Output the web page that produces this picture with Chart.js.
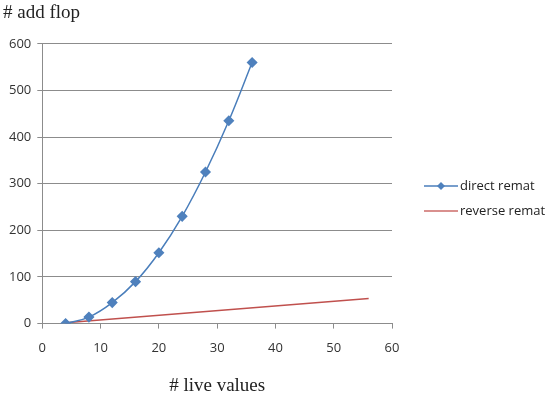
<!DOCTYPE html>
<html>
<head>
<meta charset="utf-8">
<script src="https://cdn.jsdelivr.net/npm/chart.js@4.4.0/dist/chart.umd.min.js"></script>
<style>
  html, body { margin: 0; padding: 0; background: #fff; }
  #wrap { width: 558px; height: 401px; }
</style>
</head>
<body>
<div id="wrap"><canvas id="myChart" width="558" height="401"></canvas></div>
<script>
const liveValues = [4, 8, 12, 16, 20, 24, 28, 32, 36];
const directRemat = [0, 14, 45, 90, 152, 230, 325, 435, 560];
const reverseX = [4, 56];
const reverseRemat = [2, 54];
const xTicks = [0, 10, 20, 30, 40, 50, 60];
const yTicks = [0, 100, 200, 300, 400, 500, 600];

const blue = '#4a7ebb';
const red = '#c0504d';
const gridColor = '#8c8c8c';
const tickFont = { family: 'Open Sans', size: 13 };

// legend drawn by hand so the marker looks like the reference
const sideLegend = {
  id: 'sideLegend',
  afterDraw(chart) {
    const ctx = chart.ctx;
    const x0 = 424, y1 = 186, y2 = 211;
    ctx.save();
    ctx.lineWidth = 1.5;
    ctx.strokeStyle = blue;
    ctx.beginPath(); ctx.moveTo(x0, y1); ctx.lineTo(x0 + 34, y1); ctx.stroke();
    ctx.fillStyle = '#4f81bd';
    ctx.beginPath();
    ctx.moveTo(x0 + 17, y1 - 4); ctx.lineTo(x0 + 21, y1); ctx.lineTo(x0 + 17, y1 + 4); ctx.lineTo(x0 + 13, y1);
    ctx.closePath(); ctx.fill();
    ctx.strokeStyle = '#d9908e';
    ctx.lineWidth = 2;
    ctx.beginPath(); ctx.moveTo(x0, y2); ctx.lineTo(x0 + 34, y2); ctx.stroke();
    ctx.fillStyle = '#222';
    ctx.font = '13px "Open Sans"';
    ctx.textBaseline = 'middle';
    ctx.fillText('direct remat', x0 + 36, y1);
    ctx.fillText('reverse remat', x0 + 36, y2);
    ctx.restore();
  }
};

const ctx = document.getElementById('myChart').getContext('2d');
const myChart = new Chart(ctx, {
  type: 'scatter',
  data: {
    datasets: [
      {
        label: 'direct remat',
        data: liveValues.map((x, i) => ({ x: x, y: directRemat[i] })),
        showLine: true,
        borderColor: blue,
        backgroundColor: blue,
        borderWidth: 1.5,
        tension: 0.4,
        pointStyle: 'rectRot',
        pointRadius: 4.5,
        pointBackgroundColor: '#4f81bd',
        pointBorderColor: '#4f81bd'
      },
      {
        label: 'reverse remat',
        data: reverseX.map((x, i) => ({ x: x, y: reverseRemat[i] })),
        showLine: true,
        borderColor: red,
        borderWidth: 1.5,
        pointRadius: 0
      }
    ]
  },
  options: {
    responsive: false,
    animation: false,
    layout: { padding: { left: 3, right: 166, top: 0, bottom: 4 } },
    scales: {
      x: {
        type: 'linear',
        min: 0, max: 60,
        afterBuildTicks: axis => { axis.ticks = xTicks.map(v => ({ value: v })); },
        grid: { drawOnChartArea: false, color: gridColor, tickLength: 5 },
        border: { color: gridColor },
        ticks: { font: tickFont, color: '#333', padding: 12 },
        title: {
          display: true,
          text: '# live values',
          font: { family: 'Liberation Serif', size: 19 },
          color: '#222',
          padding: { top: 6, bottom: 0 }
        }
      },
      y: {
        min: 0, max: 600,
        afterBuildTicks: axis => { axis.ticks = yTicks.map(v => ({ value: v })); },
        grid: { color: gridColor, tickLength: 5 },
        border: { color: gridColor },
        ticks: { font: tickFont, color: '#333', padding: 6 }
      }
    },
    plugins: {
      legend: { display: false },
      tooltip: { enabled: false },
      title: {
        display: true,
        text: '# add flop',
        align: 'start',
        font: { family: 'Liberation Serif', size: 19, weight: 'normal' },
        color: '#222',
        padding: { top: 2, bottom: 19 }
      }
    }
  },
  plugins: [sideLegend]
});
</script>
</body>
</html>
